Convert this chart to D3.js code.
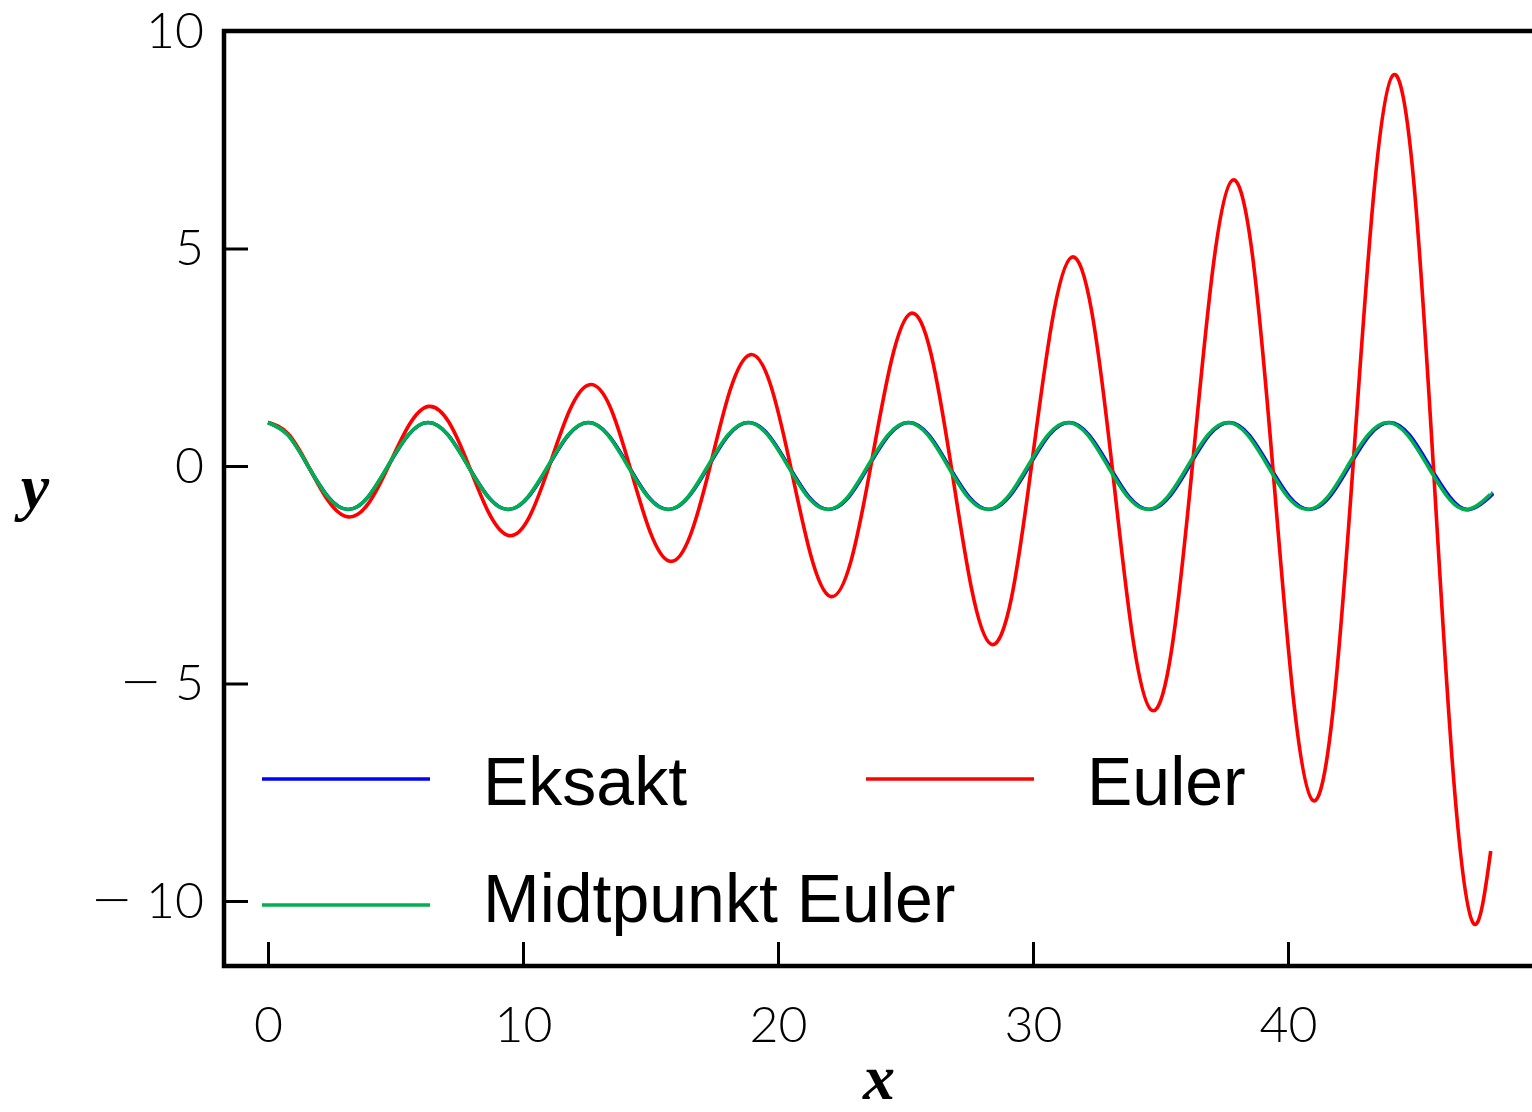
<!DOCTYPE html>
<html>
<head>
<meta charset="utf-8">
<script src="https://cdn.jsdelivr.net/npm/d3@7"></script>
<style>
  body { margin: 0; background: #fff; }
  svg { display: block; }
</style>
</head>
<body>
<svg id="chart" width="1532" height="1112"></svg>
<script>
"use strict";

// samples (x, y)
const exactX = [0, 0.79, 1.57, 2.36, 3.14, 3.93, 4.71, 5.50, 6.28, 7.07, 7.85, 8.64, 9.42, 10.21, 11.00, 11.78,
    12.57, 13.35, 14.14, 14.92, 15.71, 16.49, 17.28, 18.06, 18.85, 19.63, 20.42, 21.21, 21.99, 22.78, 23.56, 24.35,
    25.13, 25.92, 26.70, 27.49, 28.27, 29.06, 29.85, 30.63, 31.42, 32.20, 32.99, 33.77, 34.56, 35.34, 36.13, 36.91,
    37.70, 38.48, 39.27, 40.06, 40.84, 41.63, 42.41, 43.20, 43.98, 44.77, 45.55, 46.34, 47.12, 47.91, 47.95];
const exactY = [1, 0.71, 0, -0.71, -1, -0.71, 0, 0.71, 1, 0.71, 0, -0.71, -1, -0.71, 0, 0.71,
    1, 0.71, 0, -0.71, -1, -0.71, 0, 0.71, 1, 0.71, 0, -0.71, -1, -0.71, 0, 0.71,
    1, 0.71, 0, -0.71, -1, -0.71, 0, 0.71, 1, 0.71, 0, -0.71, -1, -0.71, 0, 0.71,
    1, 0.71, 0, -0.71, -1, -0.71, 0, 0.71, 1, 0.71, 0, -0.71, -1, -0.71, -0.68];

const eulerX = [0, 0.79, 1.58, 2.36, 3.15, 3.94, 4.73, 5.52, 6.30, 7.09, 7.88, 8.67, 9.46, 10.24, 11.03, 11.82,
    12.61, 13.40, 14.18, 14.97, 15.76, 16.55, 17.34, 18.12, 18.91, 19.70, 20.49, 21.28, 22.06, 22.85, 23.64, 24.43,
    25.22, 26.00, 26.79, 27.58, 28.37, 29.16, 29.94, 30.73, 31.52, 32.31, 33.10, 33.88, 34.67, 35.46, 36.25, 37.04,
    37.82, 38.61, 39.40, 40.19, 40.98, 41.76, 42.55, 43.34, 44.13, 44.92, 45.70, 46.49, 47.28, 47.95];
const eulerY = [1, 0.74, 0, -0.80, -1.17, -0.86, 0, 0.93, 1.37, 1.01, 0, -1.09, -1.60, -1.18, 0, 1.27,
    1.87, 1.38, 0, -1.49, -2.19, -1.61, 0, 1.74, 2.56, 1.88, 0, -2.04, -3.00, -2.21, 0, 2.38,
    3.51, 2.58, 0, -2.79, -4.10, -3.02, 0, 3.26, 4.80, 3.53, 0, -3.82, -5.62, -4.13, 0, 4.47,
    6.57, 4.83, 0, -5.23, -7.69, -5.65, 0, 6.11, 8.99, 6.61, 0, -7.15, -10.52, -8.85];

const midX = [0, 0.78, 1.57, 2.35, 3.14, 3.92, 4.70, 5.49, 6.27, 7.06, 7.84, 8.63, 9.41, 10.19, 10.98, 11.76,
    12.55, 13.33, 14.11, 14.90, 15.68, 16.47, 17.25, 18.03, 18.82, 19.60, 20.39, 21.17, 21.95, 22.74, 23.52, 24.31,
    25.09, 25.88, 26.66, 27.44, 28.23, 29.01, 29.80, 30.58, 31.36, 32.15, 32.93, 33.72, 34.50, 35.28, 36.07, 36.85,
    37.64, 38.42, 39.21, 39.99, 40.77, 41.56, 42.34, 43.13, 43.91, 44.69, 45.48, 46.26, 47.05, 47.83, 47.95];
const midY = [1, 0.71, 0, -0.71, -1, -0.71, 0, 0.71, 1, 0.71, 0, -0.71, -1, -0.71, 0, 0.71,
    1, 0.71, 0, -0.71, -1, -0.71, 0, 0.71, 1, 0.71, 0, -0.71, -1, -0.71, 0, 0.71,
    1, 0.71, 0, -0.71, -1, -0.71, 0, 0.71, 1, 0.71, 0, -0.71, -1, -0.71, 0, 0.71,
    1, 0.71, 0, -0.71, -1, -0.71, 0, 0.71, 1, 0.71, 0, -0.71, -1, -0.71, -0.61];

const seriesNames = ["Eksakt", "Euler", "Midtpunkt Euler"];
const seriesColors = ["#0000ff", "#ff0000", "#00b04f"];
const xTicks = [0, 10, 20, 30, 40];
const yTicks = [-10, -5, 0, 5, 10];

// plot box in px
const boxLeft = 224, boxTop = 31, boxBottom = 966, boxRight = 1545;
const tickFont = "Lato, 'DejaVu Sans', sans-serif";

window.addEventListener("load", draw);

function zipXY(xs, ys) { return xs.map((x, i) => [x, ys[i]]); }

// mathtext-style long minus: separate tspan so it can use a font with a wide minus
function minusLabel(d) {
    if (d >= 0) return;
    const t = d3.select(this);
    t.text(null);
    t.append("tspan")
        .style("font-family", "'DejaVu Sans', sans-serif")
        .style("font-weight", 200)
        .style("font-size", "50px")
        .attr("dy", 14)   // replaces the axis' 0.32em, lifted a little
        .text("\u2212");
    t.append("tspan")
        .attr("dx", 13)
        .attr("dy", 2)
        .text(Math.abs(d));
}

function draw() {
    const svg = d3.select("#chart");

    const xScale = d3.scaleLinear().domain([0, 40]).range([268, 1288]);
    const yScale = d3.scaleLinear().domain([-10, 10]).range([901, 31]);

    // axes with inward ticks
    const xAxis = svg.append("g")
        .attr("transform", `translate(0,${boxBottom})`)
        .call(d3.axisBottom(xScale).tickValues(xTicks)
            .tickSizeInner(-24).tickSizeOuter(0).tickPadding(40));
    const yAxis = svg.append("g")
        .attr("transform", `translate(${boxLeft},0)`)
        .call(d3.axisLeft(yScale).tickValues(yTicks)
            .tickSizeInner(-24).tickSizeOuter(0).tickPadding(20));
    [xAxis, yAxis].forEach(function(ax) {
        ax.select(".domain").remove();
        ax.selectAll(".tick line").attr("stroke", "#000").attr("stroke-width", 3);
        ax.selectAll(".tick text")
            .attr("fill", "#000")
            .style("font-family", tickFont)
            .style("font-weight", 300)
            .style("font-size", "50px")
            .each(minusLabel);
    });

    // curves
    const line = d3.line()
        .x(d => xScale(d[0]))
        .y(d => yScale(d[1]))
        .curve(d3.curveNatural);
    const curves = [zipXY(exactX, exactY), zipXY(eulerX, eulerY), zipXY(midX, midY)];
    svg.append("g").selectAll("path")
        .data(curves)
        .join("path")
            .attr("d", d => line(d))
            .attr("fill", "none")
            .attr("stroke", (d, i) => seriesColors[i])
            .attr("stroke-width", 3.6)
            .attr("stroke-linejoin", "round");

    // frame (right side runs off the canvas)
    svg.append("path")
        .attr("d", `M${boxRight},${boxTop}H${boxLeft}V${boxBottom}H${boxRight}`)
        .attr("fill", "none")
        .attr("stroke", "#000")
        .attr("stroke-width", 4.5)
        .attr("stroke-linecap", "square");

    // legend: line sample at [x, y], label baseline at textY
    const legendPos = [[262, 779], [866, 779], [262, 905]];
    const legendTextY = [805, 805, 922];
    const legend = svg.append("g").selectAll("g")
        .data(seriesNames)
        .join("g")
            .attr("transform", (d, i) => `translate(${legendPos[i][0]},0)`);
    legend.append("line")
        .attr("x1", 0).attr("x2", 168)
        .attr("y1", (d, i) => legendPos[i][1]).attr("y2", (d, i) => legendPos[i][1])
        .attr("stroke", (d, i) => seriesColors[i])
        .attr("stroke-width", 3.4);
    legend.append("text")
        .attr("x", 221)
        .attr("y", (d, i) => legendTextY[i])
        .style("font-family", "'Liberation Sans', Arial, sans-serif")
        .style("font-size", "68px")
        .text(d => d);

    // axis labels
    svg.append("text")
        .attr("x", 879).attr("y", 1099)
        .attr("text-anchor", "middle")
        .style("font-family", "'Liberation Serif', serif")
        .style("font-style", "italic").style("font-weight", "bold")
        .style("font-size", "64px")
        .text("x");
    svg.append("text")
        .attr("x", 35).attr("y", 508)
        .attr("text-anchor", "middle")
        .style("font-family", "'Liberation Serif', serif")
        .style("font-style", "italic").style("font-weight", "bold")
        .style("font-size", "64px")
        .text("y");
}
</script>
</body>
</html>
